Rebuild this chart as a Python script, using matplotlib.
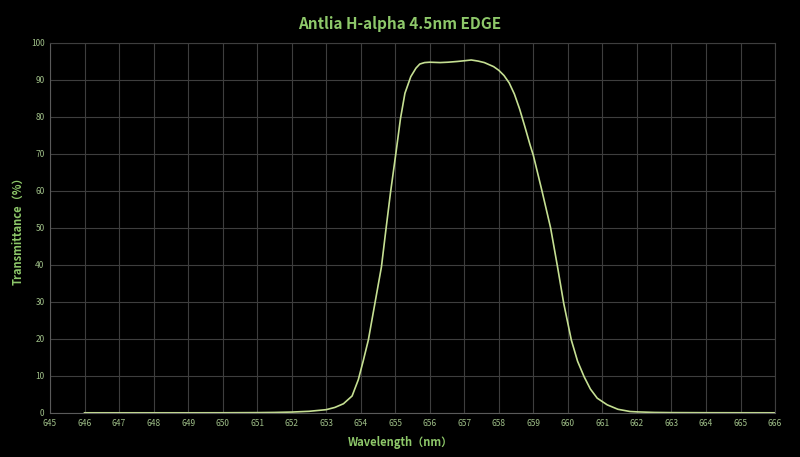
import matplotlib
matplotlib.use("Agg")
import matplotlib.pyplot as plt

# wavelength (nm) and transmittance (%)
wavelength = [646.0, 647.0, 648.0, 649.0, 650.0, 651.0, 651.5, 652.0, 652.5,
              653.0, 653.25, 653.5, 653.75, 653.93, 654.07, 654.22, 654.41,
              654.6, 654.73, 654.86, 655.03, 655.15, 655.28, 655.45, 655.6,
              655.71, 655.85, 656.0, 656.3, 656.53, 656.8, 657.01, 657.2,
              657.4, 657.58, 657.85, 658.0, 658.15, 658.3, 658.45, 658.6,
              658.75, 658.9, 659.0, 659.25, 659.5, 659.7, 659.88, 660.1,
              660.28, 660.47, 660.65, 660.85, 661.14, 661.45, 661.8, 662.0,
              662.5, 663.0, 664.0, 665.0, 666.0]
transmittance = [0.05, 0.05, 0.05, 0.05, 0.06, 0.1, 0.15, 0.25, 0.45,
                 0.9, 1.5, 2.5, 4.6, 9.0, 14.0, 19.7, 29.6,
                 39.5, 49.6, 59.4, 71.0, 79.5, 86.4, 90.9, 93.2,
                 94.3, 94.7, 94.8, 94.7, 94.8, 95.0, 95.2, 95.4,
                 95.1, 94.7, 93.6, 92.6, 91.2, 89.2, 86.2, 82.2,
                 77.5, 72.6, 69.6, 60.0, 50.0, 39.5, 29.6, 19.7,
                 14.0, 9.8, 6.5, 4.0, 2.2, 1.0, 0.4, 0.3,
                 0.15, 0.1, 0.07, 0.06, 0.05]

x_ticks = list(range(645, 667))
y_ticks = list(range(0, 101, 10))

title = "Antlia H-alpha 4.5nm EDGE"
x_label = "Wavelength（nm）"
y_label = "Transmittance（%）"

bg = "#000000"
grid_col = "#3e3e3e"
line_col = "#c5df92"
text_col = "#8ec86a"
tick_col = "#9fbf88"
fonts = ["Noto Sans CJK SC", "DejaVu Sans"]

plt.rcParams["font.family"] = fonts

fig = plt.figure(figsize=(8.0, 4.57), dpi=100, facecolor=bg)
ax = fig.add_axes([0.0625, 0.0963, 0.9063, 0.8097])
ax.set_facecolor(bg)

ax.plot(wavelength, transmittance, color=line_col, linewidth=1.2)

ax.set_xlim(645, 666)
ax.set_ylim(0, 100)
ax.set_xticks(x_ticks)
ax.set_yticks(y_ticks)
ax.grid(True, color=grid_col, linewidth=0.8)
ax.set_axisbelow(True)
ax.tick_params(colors=tick_col, labelsize=6, length=0, pad=4)
for side in ["left", "bottom", "top", "right"]:
    ax.spines[side].set_color(grid_col)
ax.spines["left"].set_color("#5a5a5a")
ax.spines["bottom"].set_color("#5a5a5a")

fig.text(0.5, 0.947, title, color=text_col, fontsize=11, fontweight="bold",
         ha="center", va="center")
fig.text(0.5, 0.031, x_label, color=text_col, fontsize=8, fontweight="bold",
         ha="center", va="center")
fig.text(0.022, 0.5, y_label, color=text_col, fontsize=8, fontweight="bold",
         ha="center", va="center", rotation=90)

fig.savefig("out.png", dpi=100, facecolor=bg)
